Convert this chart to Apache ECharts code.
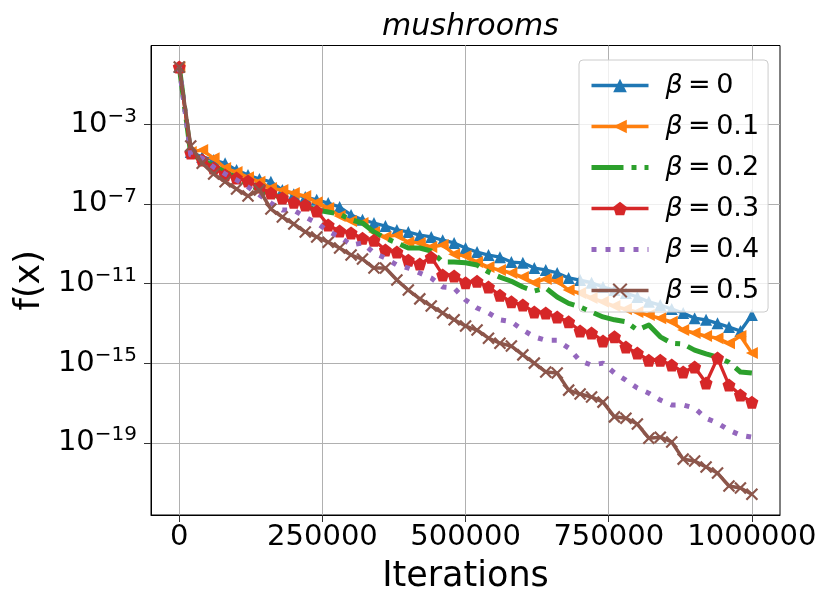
<!DOCTYPE html>
<html><head><meta charset="utf-8">
<script src="https://cdn.jsdelivr.net/npm/echarts@6/dist/echarts.min.js"></script>
<style>html,body{margin:0;padding:0;background:#fff}#c{width:831px;height:611px}</style>
</head><body><div id="c"></div>
<script>
const iterations = [0,20000,40000,60000,80000,100000,120000,140000,160000,180000,200000,220000,240000,260000,280000,300000,320000,340000,360000,380000,400000,420000,440000,460000,480000,500000,520000,540000,560000,580000,600000,620000,640000,660000,680000,700000,720000,740000,760000,780000,800000,820000,840000,860000,880000,900000,920000,940000,960000,980000,1000000];

const beta00 = [7.6e-1,4.1e-5,2.3e-5,1.6e-5,1.1e-5,5.0e-6,2.8e-6,1.8e-6,1.3e-6,5.0e-7,3.1e-7,2.2e-7,1.6e-7,1.1e-7,7.0e-8,2.8e-8,1.6e-8,1.1e-8,7.7e-9,4.9e-9,3.9e-9,2.7e-9,2.2e-9,1.5e-9,1.1e-9,6.1e-10,3.8e-10,2.7e-10,2.1e-10,1.2e-10,1.1e-10,6.0e-11,4.8e-11,3.4e-11,1.9e-11,1.5e-11,1.1e-11,6.7e-12,4.7e-12,3.3e-12,2.1e-12,1.2e-12,8.3e-13,5.2e-13,3.3e-13,1.8e-13,1.5e-13,1.0e-13,6.5e-14,4.1e-14,2.6e-13];
const beta01 = [7.6e-1,4.1e-5,5.1e-5,2.0e-5,6.4e-6,4.0e-6,2.2e-6,1.3e-6,6.3e-7,5.0e-7,3.5e-7,2.5e-7,1.2e-7,6.2e-8,2.5e-8,1.4e-8,1.1e-8,3.9e-9,2.2e-9,2.7e-9,1.2e-9,1.1e-9,6.8e-10,8.6e-10,3.0e-10,2.4e-10,1.2e-10,6.7e-11,4.8e-11,3.4e-11,2.1e-11,1.1e-11,1.7e-11,1.3e-11,4.7e-12,3.3e-12,1.9e-12,1.2e-12,7.4e-13,5.2e-13,3.7e-13,2.6e-13,1.8e-13,1.2e-13,4.6e-14,3.3e-14,2.3e-14,1.8e-14,1.0e-14,2.3e-14,3.2e-15];
const beta02 = [7.6e-1,3.2e-5,1.6e-5,8.0e-6,4.0e-6,2.0e-6,1.0e-6,5.0e-7,3.5e-7,1.8e-7,1.1e-7,7.8e-8,4.9e-8,3.9e-8,3.1e-8,1.6e-8,1.1e-8,3.9e-9,1.9e-9,1.1e-9,6.1e-10,6.1e-10,4.3e-10,1.2e-10,1.2e-10,1.1e-10,8.5e-11,3.8e-11,2.1e-11,1.3e-11,6.7e-12,4.2e-12,5.9e-12,2.1e-12,1.0e-12,6.6e-13,3.7e-13,2.1e-13,1.5e-13,1.2e-13,4.6e-14,8.2e-14,2.1e-14,1.0e-14,9.1e-15,4.5e-15,2.9e-15,2.0e-15,1.1e-15,3.6e-16,3.2e-16];
const beta03 = [7.6e-1,3.6e-5,1.6e-5,6.4e-6,2.8e-6,2.0e-6,1.4e-6,7.1e-7,3.5e-7,2.0e-7,1.2e-7,8.8e-8,4.4e-8,8.7e-9,4.3e-9,3.5e-9,1.9e-9,1.5e-9,4.8e-10,3.8e-10,1.5e-10,9.5e-11,2.1e-10,2.7e-11,2.4e-11,1.1e-11,1.3e-11,6.7e-12,2.6e-12,1.2e-12,8.3e-13,3.7e-13,3.3e-13,2.1e-13,1.2e-13,4.1e-14,3.3e-14,1.3e-14,2.1e-14,6.4e-15,3.2e-15,1.4e-15,1.4e-15,8.0e-16,3.6e-16,6.4e-16,1.0e-16,1.8e-15,7.9e-17,2.5e-17,1.1e-17];
const beta04 = [7.6e-1,2.9e-5,2.0e-5,7.1e-6,3.2e-6,1.6e-6,7.1e-7,2.8e-7,1.1e-7,4.9e-8,4.9e-8,2.2e-8,1.1e-8,4.3e-9,2.2e-9,8.6e-10,1.1e-9,3.4e-10,1.9e-10,8.5e-11,6.0e-11,3.4e-11,1.9e-11,6.7e-12,5.9e-12,1.5e-12,5.9e-13,3.3e-13,1.5e-13,1.2e-13,4.6e-14,2.1e-14,1.4e-14,1.4e-14,5.7e-15,1.3e-15,8.0e-16,1.0e-15,3.2e-16,1.4e-16,5.6e-17,3.1e-17,1.4e-17,7.9e-18,7.9e-18,5.5e-18,1.7e-18,9.8e-19,4.3e-19,2.4e-19,1.9e-19];
const beta05 = [7.6e-1,8.1e-5,1.1e-5,3.2e-6,1.3e-6,5.6e-7,2.5e-7,5.0e-7,5.5e-8,2.2e-8,9.8e-9,3.9e-9,2.2e-9,1.2e-9,6.1e-10,2.7e-10,1.7e-10,6.0e-11,6.0e-11,1.5e-11,4.7e-12,1.7e-12,7.4e-13,3.3e-13,1.5e-13,7.3e-14,4.6e-14,1.8e-14,1.0e-14,7.2e-15,2.6e-15,1.0e-15,3.6e-16,3.2e-16,4.4e-17,2.8e-17,2.0e-17,1.1e-17,2.0e-18,1.7e-18,8.7e-19,1.7e-19,1.9e-19,1.1e-19,1.5e-20,1.2e-20,6.0e-21,3.0e-21,6.7e-22,5.3e-22,2.6e-22];

const seriesNames = ['β = 0','β = 0.1','β = 0.2','β = 0.3','β = 0.4','β = 0.5'];
const xTicks = [0,250000,500000,750000,1000000];
const yTickExponents = [-19,-15,-11,-7,-3];
const titleText = 'mushrooms';
const xLabel = 'Iterations';
const yLabel = 'f(x)';

const FONT = 'DejaVu Sans';
const PENTAGON = 'path://M0,-1L0.951,-0.309L0.588,0.809L-0.588,0.809L-0.951,-0.309Z';
const XMARK = 'path://M0,0L10,10M10,0L0,10';
const CLEAR = 'rgba(0,0,0,0)';

function pts(vals) { return iterations.map((x, i) => [x, Math.log10(vals[i])]); }

const styles = [
  {data: beta00, color: '#1f77b4', symbol: 'triangle', size: 12, rotate: 0, width: 3.3, type: 'solid', show: true},
  {data: beta01, color: '#ff7f0e', symbol: 'triangle', size: 12, rotate: 90, width: 3.3, type: 'solid', show: true},
  {data: beta02, color: '#2ca02c', symbol: 'circle', size: 4, rotate: 0, width: 5, type: [32, 8, 5, 8], show: false, hide: true},
  {data: beta03, color: '#d62728', symbol: PENTAGON, size: 13, rotate: 0, width: 3.3, type: 'solid', show: true},
  {data: beta04, color: '#9467bd', symbol: 'circle', size: 4, rotate: 0, width: 5, type: [5, 9], show: false, hide: true},
  {data: beta05, color: '#8c564b', symbol: XMARK, size: 11, rotate: 0, width: 3.5, type: 'solid', show: true, stroke: true}
];

const series = styles.map((s, k) => ({
  name: seriesNames[k],
  type: 'line',
  data: pts(s.data),
  symbol: s.symbol,
  symbolSize: s.size,
  symbolRotate: s.rotate,
  showSymbol: s.show,
  showAllSymbol: true,
  lineStyle: {color: s.color, width: s.width, type: s.type, cap: 'butt', join: 'round'},
  itemStyle: s.stroke ? {color: s.color, borderColor: s.color, borderWidth: 2.2}
            : (s.hide ? {color: CLEAR, borderWidth: 0} : {color: s.color, borderWidth: 0}),
  emphasis: {disabled: true},
  animation: false,
  z: 2 + k
}));

const chart = echarts.init(document.getElementById('c'), null, {renderer: 'canvas'});
chart.setOption({
  backgroundColor: '#ffffff',
  animation: false,
  textStyle: {fontFamily: FONT},
  title: {
    text: titleText, left: 465.5, top: 7, textAlign: 'center',
    textStyle: {fontFamily: FONT, fontStyle: 'italic', fontWeight: 'normal', fontSize: 30, color: '#000'}
  },
  grid: {left: 151, right: 51, top: 45.5, bottom: 96, show: true, borderColor: '#000', borderWidth: 1, backgroundColor: 'transparent'},
  xAxis: {
    type: 'value', min: -49400, max: 1049100,
    name: xLabel, nameLocation: 'middle', nameGap: 44,
    nameTextStyle: {fontFamily: FONT, fontSize: 35, color: '#000'},
    axisLine: {show: true, onZero: false, lineStyle: {color: '#000', width: 1}},
    axisTick: {show: true, inside: false, length: 7, customValues: xTicks, lineStyle: {color: '#333', width: 1}},
    axisLabel: {customValues: xTicks, formatter: v => String(v), fontFamily: FONT, fontSize: 29, color: '#000', margin: 8},
    splitLine: {show: true, lineStyle: {color: '#b0b0b0', width: 1}}
  },
  yAxis: {
    type: 'value', min: -22.63, max: 0.96,
    name: yLabel, nameLocation: 'middle', nameGap: 102, nameRotate: 90,
    nameTextStyle: {fontFamily: FONT, fontSize: 35, color: '#000'},
    axisLine: {show: true, onZero: false, lineStyle: {color: '#000', width: 1}},
    axisTick: {show: true, inside: false, length: 7, customValues: yTickExponents, lineStyle: {color: '#333', width: 1}},
    axisLabel: {
      customValues: yTickExponents, margin: 14,
      formatter: v => '{b|10}{s|\u2212' + Math.abs(Math.round(v)) + '}',
      rich: {
        b: {fontFamily: FONT, fontSize: 29, color: '#000'},
        s: {fontFamily: FONT, fontSize: 20, color: '#000', padding: [0, 0, 15, 0]}
      }
    },
    splitLine: {show: true, lineStyle: {color: '#b0b0b0', width: 1}}
  },
  legend: {
    left: 579, top: 60, orient: 'vertical',
    itemWidth: 57, itemHeight: 17, itemGap: 14,
    padding: [12, 9, 8, 10],
    backgroundColor: 'rgba(255,255,255,0.8)', borderColor: '#cccccc', borderWidth: 1, borderRadius: 4,
    lineStyle: {width: 'inherit'},
    data: seriesNames,
    formatter: name => '{g|}{i|β}{n|\u2009=\u2009' + name.split('= ')[1] + '}',
    textStyle: {
      rich: {
        g: {width: 12},
        i: {fontFamily: FONT, fontStyle: 'italic', fontSize: 27, color: '#000', lineHeight: 27},
        n: {fontFamily: FONT, fontSize: 27, color: '#000', lineHeight: 27}
      }
    }
  },
  series: series
});
</script>
</body></html>
